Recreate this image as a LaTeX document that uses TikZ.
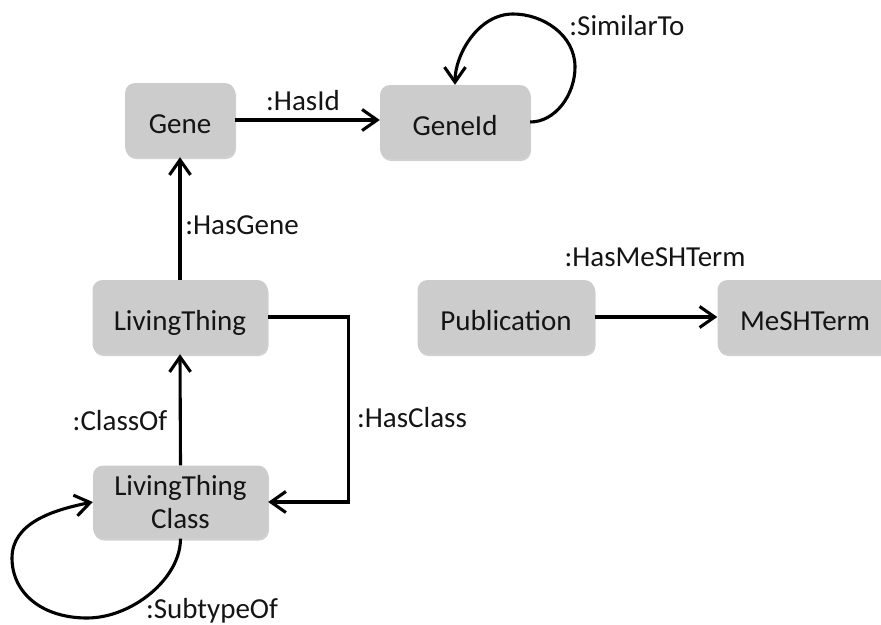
\documentclass[tikz,border=0pt]{standalone}
\usepackage{fontspec}
\setmainfont{Carlito}
\usetikzlibrary{arrows.meta,shadows}
\definecolor{boxgray}{RGB}{204,204,204}
\definecolor{inkc}{RGB}{20,20,20}
\begin{document}
\begin{tikzpicture}[x=1pt,y=-1pt,
  every node/.style={font=\fontsize{29}{33}\selectfont, text=inkc},
  cls/.style={fill=boxgray, rounded corners=10pt, minimum height=74pt, inner sep=0pt,
    text height=27pt, text depth=0.5pt,
    drop shadow={shadow xshift=1pt, shadow yshift=-2pt, opacity=0.18, fill=black}},
  lbl/.style={anchor=base, inner sep=0pt},
  rel/.style={line width=3.1pt, draw=black, -{Straight Barb[length=15pt,width=21pt,line width=3.1pt]}},
  plain/.style={line width=3.1pt, draw=black}]
\useasboundingbox (0,0) rectangle (881,624);

\node[cls, minimum width=110pt] (gene) at (180,120) {Gene};
\node[cls, minimum width=150pt] (geneid) at (455,122) {GeneId};
\node[cls, minimum width=175pt] (lt) at (180,317) {LivingThing};
\node[fill=boxgray, rounded corners=10pt, minimum height=73pt, minimum width=175pt, inner sep=0pt, align=center,
  font=\fontsize{29}{33}\selectfont,
  drop shadow={shadow xshift=1pt, shadow yshift=-2pt, opacity=0.18, fill=black}] (ltc) at (180.5,502) {LivingThing\\Class};
\node[cls, minimum width=177pt] (pub) at (506,317) {Publication};
\node[cls, minimum width=175pt] (mesh) at (805,317) {MeSHTerm};

% edges
\draw[rel] (gene.east |- 0,120) -- (geneid.west |- 0,120);
\node[lbl] (lhasid) at (303,110) {:HasId};

\draw[rel] (geneid.east) .. controls +(25,0) and +(0,28) .. (575,67)
  .. controls +(0,-32) and +(30,0) .. (513,14)
  .. controls +(-35,0) and +(0,-30) .. (geneid.north);
\node[lbl] (lsim) at (627,35) {:SimilarTo};

\draw[rel] (lt.north) -- (gene.south);
\node[lbl] (lhasgene) at (242,234) {:HasGene};

\draw[rel] (ltc.north) -- (lt.south);
\node[lbl] (lclassof) at (120,430) {:ClassOf};

\draw[rel] (lt.east) -- ++(81,0) |- (ltc.east);
\node[lbl] (lhasclass) at (412,427) {:HasClass};

\draw[rel] (ltc.south) .. controls +(0,40) and +(45,0) .. (87,618)
  .. controls +(-45,0) and +(0,35) .. (12,558)
  .. controls +(0,-35) and +(-40,8) .. (ltc.west);
\node[lbl] (lsub) at (212,618) {:SubtypeOf};

\draw[rel] (pub.east) -- (mesh.west);
\node[lbl] (lmesh) at (655,266) {:HasMeSHTerm};
\end{tikzpicture}
\end{document}
